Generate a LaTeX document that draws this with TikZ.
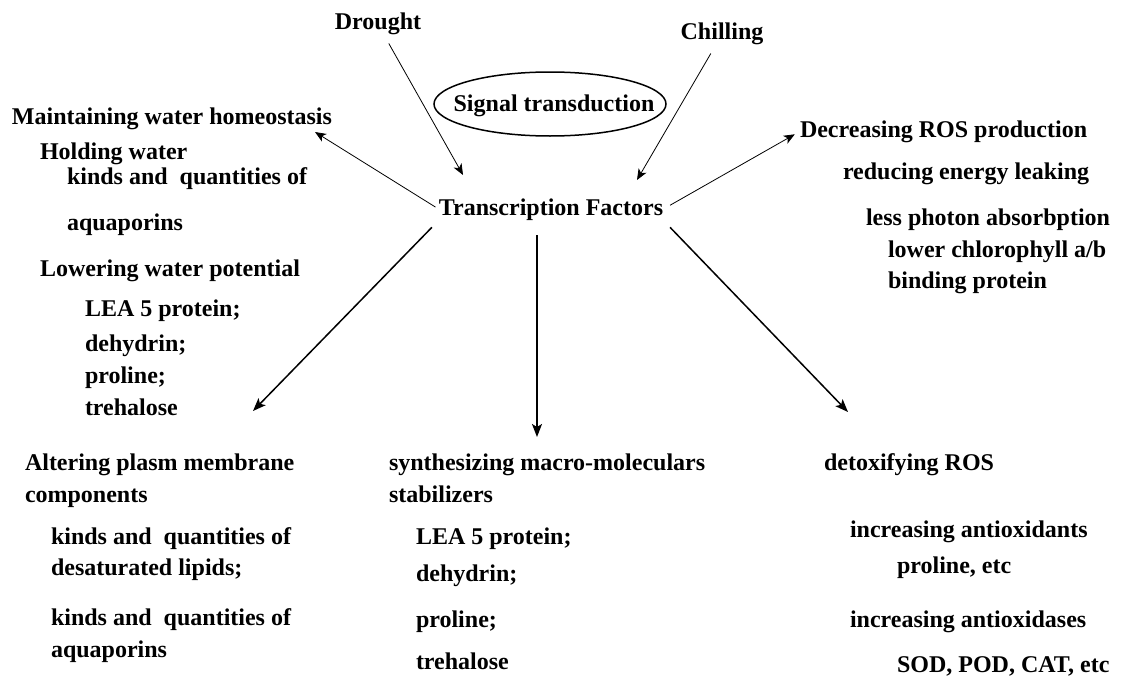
\documentclass[tikz,border=0pt]{standalone}
\usepackage{fontspec}
\setmainfont{Liberation Serif}
\usetikzlibrary{arrows.meta,shapes.geometric}
\tikzset{
    x={1pt},
    y={-1pt},
    item/.style={
        font={\fontsize{24}{30}\selectfont\bfseries},
        anchor=base west,
        inner sep=0pt,
        outer sep=0pt,
    },
    stimulus/.style={
        item, anchor=base,
        inner sep=3pt,
    },
    signal/.style={
        draw, ellipse,
        line width={1.5pt},
        minimum width={232},
        minimum height={64},
        inner sep=0pt,
    },
    thin arrow/.style={
        draw, line width={0.8pt},
        -{Stealth[length=11pt,width=9pt,inset=3pt]},
    },
    thick arrow/.style={
        draw, line width={1.5pt},
        -{Stealth[length=13pt,width=10pt,inset=3pt]},
    },
}

\begin{document}
\begin{tikzpicture}
\useasboundingbox (0,0) rectangle (1121,677);
% stimuli
\node[stimulus] (drought) at (378,30) {Drought};
\node[stimulus] (chilling) at (722,40) {Chilling};
\node[signal] (signal) at (550,104) {};
\node[item, anchor=base] (signaltext) at (554,111) {Signal transduction};
\node[item, anchor=base] (tf) at (551,215) {Transcription Factors};
% water side
\node[item] (maint) at (12,124) {Maintaining water homeostasis};
\node[item] (hold) at (40,159) {Holding water};
\node[item] (holdaqua) at (67,184) {kinds and\ \ quantities of};
\node[item] (holdaqua2) at (67,230) {aquaporins};
\node[item] (lowering) at (40,276) {Lowering water potential};
\node[item] (lea) at (85,316) {LEA 5 protein;};
\node[item] (dehydrin) at (85,351) {dehydrin;};
\node[item] (proline) at (85,383) {proline;};
\node[item] (trehalose) at (85,415) {trehalose};
% ROS side
\node[item] (decr) at (800,137) {Decreasing ROS production};
\node[item] (reduce) at (843,179) {reducing energy leaking};
\node[item] (photon) at (866,225) {less photon absorbption};
\node[item] (chloro) at (888,257) {lower chlorophyll a/b};
\node[item] (binding) at (888,288) {binding protein};
% membrane
\node[item] (alter) at (25,470) {Altering plasm membrane};
\node[item] (alter2) at (25,502) {components};
\node[item] (lipid) at (51,544) {kinds and\ \ quantities of};
\node[item] (lipid2) at (51,575) {desaturated lipids;};
\node[item] (aqua) at (51,625) {kinds and\ \ quantities of};
\node[item] (aqua2) at (51,657) {aquaporins};
% stabilizers
\node[item] (synth) at (389,470) {synthesizing macro-moleculars};
\node[item] (synth2) at (389,502) {stabilizers};
\node[item] (leab) at (416,544) {LEA 5 protein;};
\node[item] (dehydrinb) at (416,581) {dehydrin;};
\node[item] (prolineb) at (416,627) {proline;};
\node[item] (trehaloseb) at (416,669) {trehalose};
% detoxifying
\node[item] (detox) at (824,470) {detoxifying ROS};
\node[item] (antiox) at (850,537) {increasing antioxidants};
\node[item] (antioxetc) at (897,573) {proline, etc};
\node[item] (antioxd) at (850,627) {increasing antioxidases};
\node[item] (sod) at (897,672) {SOD, POD, CAT, etc};
% arrow tips
\coordinate (droughttip) at (463,175);
\coordinate (chillingtip) at (637,180);
\coordinate (mainttip) at (315,132);
\coordinate (altertip) at (253,411);
\coordinate (synthtip) at (537,437);
\coordinate (detoxtip) at (848,412);
% arrows
\draw[thin arrow, shorten <=6pt] (drought) -- (droughttip);
\draw[thin arrow, shorten <=6pt] (chilling) -- (chillingtip);
\draw[thin arrow, shorten <=4pt] (tf.west) -- (mainttip);
\draw[thin arrow, shorten <=8pt, shorten >=6pt] (tf.east) -- (decr.west);
\draw[thick arrow, shorten <=10pt] (tf.south west) -- (altertip);
\draw[thick arrow, shorten <=15pt] ([xshift=-14pt]tf.south) -- (synthtip);
\draw[thick arrow, shorten <=10pt] (tf.south east) -- (detoxtip);
\end{tikzpicture}
\end{document}
